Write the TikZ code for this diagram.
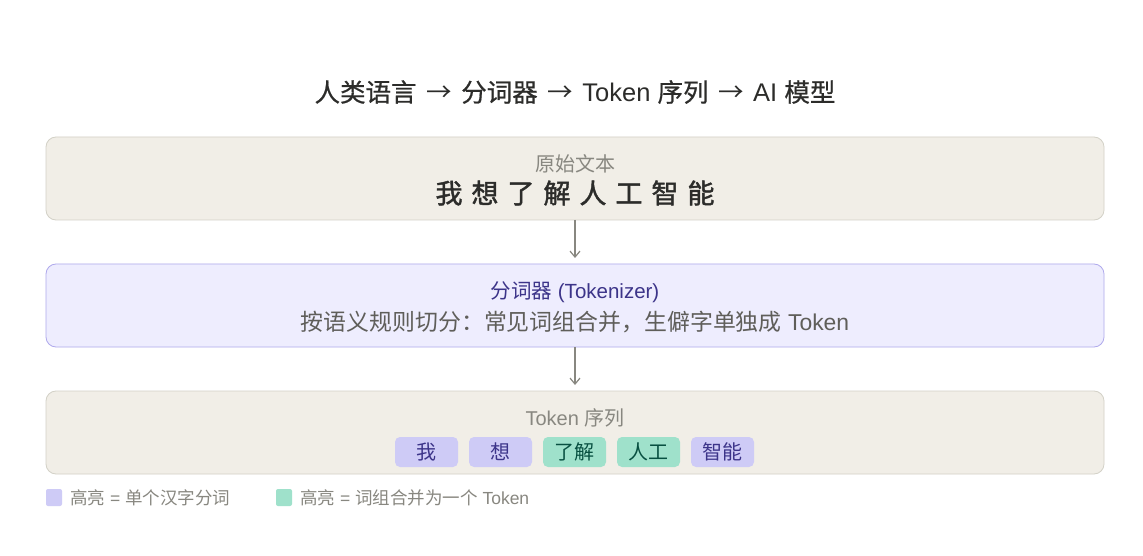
\documentclass[tikz,border=0pt]{standalone}
\usepackage{fontspec}
\setmainfont{Liberation Sans}
\newfontfamily\cjk{Noto Sans CJK SC}
\newfontfamily\cjkmed{Noto Sans CJK SC}[FakeBold=0.6]
\newfontfamily\cjkbold{Noto Sans CJK SC}[FakeBold=1.6]
\usetikzlibrary{arrows.meta}
\definecolor{warmfill}{HTML}{F1EEE7}
\definecolor{warmline}{HTML}{D3D1C7}
\definecolor{purfill}{HTML}{EEEDFE}
\definecolor{purline}{HTML}{AFA9EC}
\definecolor{purtext}{HTML}{3C3489}
\definecolor{graytext}{HTML}{888780}
\definecolor{darktext}{HTML}{2C2C2A}
\definecolor{midtext}{HTML}{5F5E5A}
\definecolor{chippur}{HTML}{CECBF6}
\definecolor{chipgrn}{HTML}{9FE1CB}
\definecolor{grntext}{HTML}{085041}
\definecolor{arrowgray}{HTML}{888780}
\tikzset{
  panel/.style={rounded corners=10pt, line width=0.8pt},
  chip/.style={rounded corners=5pt, minimum width=63pt, minimum height=30pt, inner sep=0pt, font=\fontsize{20}{24}\selectfont\cjk},
  chipP/.style={chip, fill=chippur, text=purtext},
  chipG/.style={chip, fill=chipgrn, text=grntext},
  flow/.style={draw=arrowgray, line width=1.2pt, -{Straight Barb[length=6pt,width=10pt]}, shorten >=6pt},
  legsq/.style={rounded corners=2pt, minimum width=16pt, minimum height=17pt, inner sep=0pt},
  legtxt/.style={anchor=west, inner sep=0pt, text=graytext, font=\fontsize{17.5}{20}\selectfont},
  lbl/.style={inner sep=0pt, text=graytext, font=\fontsize{20}{24}\selectfont},
}
\newcommand{\tarr}{{\cjk →}}
\begin{document}
\begin{tikzpicture}[x=1pt,y=1pt]
\useasboundingbox[fill=white] (0,0) rectangle (1143,555);
% title
\node[inner sep=0pt, text=darktext, font=\fontsize{25.5}{28}\selectfont] (title) at (575,463)
  {{\cjkmed 人类语言}\hspace{3pt} \tarr{}\hspace{2pt} {\cjkmed 分词器}\hspace{3pt} \tarr{}\hspace{2pt} Token {\cjkmed 序列}\hspace{3pt} \tarr{}\hspace{2pt} AI {\cjkmed 模型}};
% panels
\draw[panel, fill=warmfill, draw=warmline] (46,335) rectangle (1104,418);
\coordinate (p1s) at (575,335);
\draw[panel, fill=purfill, draw=purline] (46,208) rectangle (1104,291);
\coordinate (p2n) at (575,291);
\coordinate (p2s) at (575,208);
\draw[panel, fill=warmfill, draw=warmline] (46,81) rectangle (1104,164);
\coordinate (p3n) at (575,164);
% panel 1
\node[lbl] (rawlbl) at (575,391) {\cjk 原始文本};
\node[inner sep=0pt, text=darktext, font=\fontsize{27}{30}\selectfont\cjkbold] (raw) at (575,362)
  {我\hspace{9pt}想\hspace{9pt}了\hspace{9pt}解\hspace{9pt}人\hspace{9pt}工\hspace{9pt}智\hspace{9pt}能};
% panel 2
\node[inner sep=0pt, text=purtext, font=\fontsize{20.5}{24}\selectfont] (toklbl) at (575,263)
  {{\cjk 分词器} (Tokenizer)};
\node[inner sep=0pt, text=midtext, font=\fontsize{22.9}{26}\selectfont] (tokdesc) at (575,233)
  {{\cjk 按语义规则切分：常见词组合并，生僻字单独成} Token};
% panel 3
\node[lbl] (seqlbl) at (575,137) {Token {\cjk 序列}};
\node[chipP] (c1) at (426.5,103) {我};
\node[chipP] (c2) at (500.5,103) {想};
\node[chipG] (c3) at (574.5,103) {了解};
\node[chipG] (c4) at (648.5,103) {人工};
\node[chipP] (c5) at (722.5,103) {智能};
% arrows
\draw[flow] (p1s) -- (p2n);
\draw[flow] (p2s) -- (p3n);
% legend
\node[legsq, fill=chippur] (lg1) at (54,57.5) {};
\node[legtxt] (lt1) at (70,57.5) {{\cjk 高亮} = {\cjk 单个汉字分词}};
\node[legsq, fill=chipgrn] (lg2) at (284,57.5) {};
\node[legtxt] (lt2) at (300,57.5) {{\cjk 高亮} = {\cjk 词组合并为一个} Token};
\end{tikzpicture}
\end{document}
